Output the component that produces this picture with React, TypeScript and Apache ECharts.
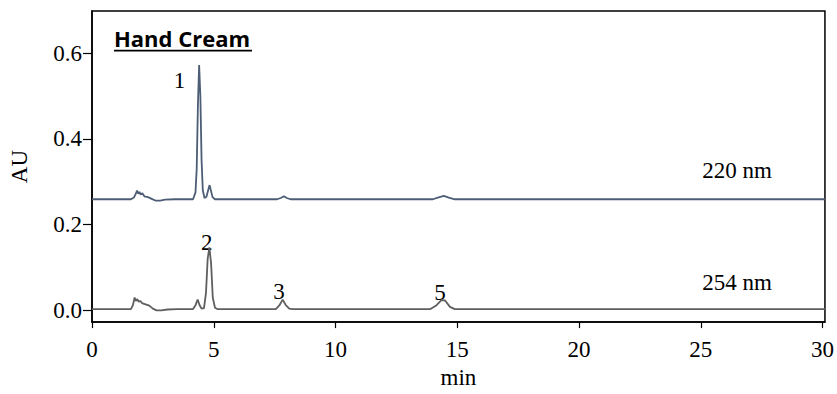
import React, { useEffect, useRef } from 'react';
import * as echarts from 'echarts';

// Retention times (min) and absorbance (AU) at 220 nm
const times220 = [0, 1.6, 1.72, 1.8, 1.85, 1.9, 1.95, 2.0, 2.07, 2.15, 2.3, 2.45, 2.6, 2.8, 3.0, 3.4, 4.15, 4.25, 4.3, 4.35, 4.4, 4.45, 4.5, 4.55, 4.62, 4.7, 4.77, 4.83, 4.89, 4.95, 5.05, 7.6, 7.75, 7.88, 8.0, 8.15, 14.0, 14.2, 14.45, 14.65, 14.9, 30.1];
const au220 = [0.259, 0.259, 0.263, 0.272, 0.279, 0.272, 0.276, 0.27, 0.273, 0.266, 0.264, 0.26, 0.256, 0.256, 0.258, 0.259, 0.259, 0.275, 0.33, 0.48, 0.572, 0.5, 0.35, 0.28, 0.262, 0.265, 0.28, 0.292, 0.278, 0.264, 0.259, 0.259, 0.262, 0.266, 0.262, 0.259, 0.259, 0.263, 0.267, 0.263, 0.259, 0.259];

// Trace at 254 nm
const times254 = [0, 1.6, 1.68, 1.75, 1.8, 1.86, 1.92, 1.98, 2.05, 2.2, 2.35, 2.5, 2.65, 2.85, 3.1, 3.5, 4.15, 4.25, 4.34, 4.42, 4.5, 4.6, 4.68, 4.75, 4.82, 4.89, 4.96, 5.05, 5.15, 7.55, 7.7, 7.83, 7.95, 8.1, 8.25, 13.9, 14.15, 14.35, 14.5, 14.7, 14.9, 30.1];
const au254 = [0.003, 0.003, 0.012, 0.03, 0.022, 0.026, 0.02, 0.022, 0.017, 0.014, 0.011, 0.004, 0.0, 0.0, 0.002, 0.003, 0.003, 0.012, 0.025, 0.012, 0.004, 0.005, 0.04, 0.12, 0.147, 0.11, 0.03, 0.006, 0.003, 0.003, 0.012, 0.025, 0.013, 0.004, 0.003, 0.003, 0.012, 0.024, 0.023, 0.008, 0.003, 0.003];

const xTicks = [0, 5, 10, 15, 20, 25, 30];
const yTicks = [0, 0.2, 0.4, 0.6];

const seriesNames = ['220 nm', '254 nm'];
const peakLabels = ['1', '2', '3', '5'];
const title = 'Hand Cream';

const serif = 'Liberation Serif';
const fs = 23;

export default function App() {
  const ref = useRef<HTMLDivElement>(null);
  useEffect(() => {
    const chart = echarts.init(ref.current!, null, { renderer: 'svg' });
    const txt = (text: string, x: number, y: number, extra: any = {}) => ({
      type: 'text',
      x,
      y,
      silent: true,
      style: {
        text,
        fill: '#000',
        font: `${fs}px "${serif}"`,
        align: 'center',
        verticalAlign: 'middle',
        ...extra,
      },
    });
    chart.setOption({
      animation: false,
      backgroundColor: '#fff',
      grid: {
        left: 91,
        right: 11,
        top: 11,
        bottom: 65,
        show: true,
        borderColor: '#000',
        borderWidth: 1.5,
        backgroundColor: 'transparent',
      },
      xAxis: {
        type: 'value',
        min: 0,
        max: 30.1,
        name: 'min',
        nameLocation: 'middle',
        nameGap: 41,
        nameTextStyle: { fontFamily: serif, fontSize: fs, color: '#000' },
        axisLine: { show: true, onZero: false, lineStyle: { color: '#000', width: 1.5 } },
        axisTick: { show: true, length: 6, customValues: xTicks, lineStyle: { color: '#000', width: 1.2 } },
        axisLabel: { customValues: xTicks, margin: 16, fontFamily: serif, fontSize: fs, color: '#000' },
        splitLine: { show: false },
      },
      yAxis: {
        type: 'value',
        min: -0.0274,
        max: 0.698,
        name: 'AU',
        nameLocation: 'middle',
        nameGap: 61,
        nameTextStyle: { fontFamily: serif, fontSize: fs, color: '#000' },
        axisLine: { show: true, onZero: false, lineStyle: { color: '#000', width: 1.5 } },
        axisTick: { show: true, length: 9, customValues: yTicks, lineStyle: { color: '#000', width: 1.2 } },
        axisLabel: {
          customValues: yTicks,
          margin: 10,
          fontFamily: serif,
          fontSize: fs,
          color: '#000',
          formatter: (v: number) => v.toFixed(1),
        },
        splitLine: { show: false },
      },
      series: [
        {
          name: seriesNames[0],
          type: 'line',
          showSymbol: false,
          silent: true,
          lineStyle: { color: '#4d5d75', width: 1.8 },
          data: times220.map((t, i) => [t, au220[i]]),
        },
        {
          name: seriesNames[1],
          type: 'line',
          showSymbol: false,
          silent: true,
          lineStyle: { color: '#5f5f5f', width: 1.8 },
          data: times254.map((t, i) => [t, au254[i]]),
        },
      ],
      graphic: [
        txt(title, 114, 38, { font: 'bold 22px "Open Sans"', align: 'left' }),
        {
          type: 'line',
          silent: true,
          shape: { x1: 114, y1: 50.7, x2: 252, y2: 50.7 },
          style: { stroke: '#000', lineWidth: 1.8 },
        },
        txt(peakLabels[0], 179.5, 80),
        txt(peakLabels[1], 206.7, 242.5),
        txt(peakLabels[2], 279, 291),
        txt(peakLabels[3], 440, 292),
        txt(seriesNames[0], 737, 170),
        txt(seriesNames[1], 737, 282.5),
      ],
    });
    return () => chart.dispose();
  }, []);
  return <div ref={ref} style={{ position: 'fixed', left: 0, top: 0, width: 837, height: 394 }} />;
}
